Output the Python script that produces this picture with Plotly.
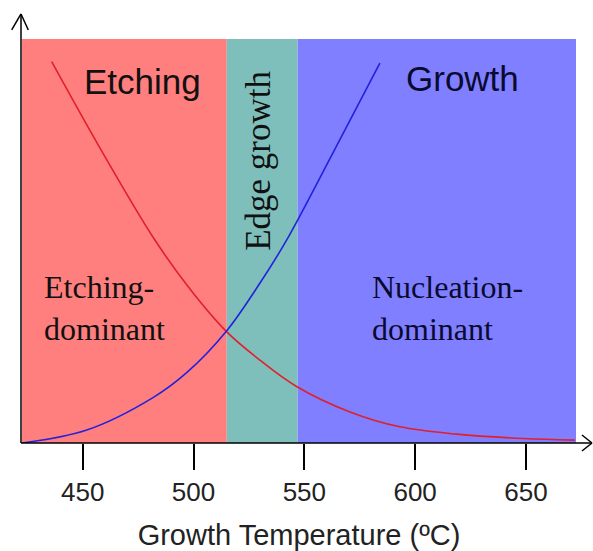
import plotly.graph_objects as go

# ---- data ----
temp_etch = [436.0, 457.8, 481.9, 498.4, 515.0, 530.0, 546.5, 570.6, 593.2, 618.7, 648.8, 672.1]
rate_etch = [94.4, 73.0, 50.8, 38.1, 27.5, 20.5, 14.0, 7.7, 4.0, 2.2, 1.1, 0.7]

temp_growth = [422.6, 451.8, 481.9, 496.9, 515.0, 530.0, 542.0, 563.1, 584.1]
rate_growth = [0.0, 3.2, 11.3, 17.4, 27.8, 39.6, 50.2, 72.0, 94.0]

region_edges = [422.6, 515.0, 547.0, 672.6]
region_colors = ["#FF7F7F", "#7FBFBB", "#7F7FFF"]

tick_vals = [450, 500, 550, 600, 650]
tick_text = ["450", "500", "550", "600", "650"]
x_title = "Growth Temperature (ºC)"

SANS = "Liberation Sans, Arial, sans-serif"
SERIF = "Liberation Serif, Times New Roman, serif"

fig = go.Figure()

fig.add_trace(go.Scatter(x=temp_etch, y=rate_etch, mode="lines",
                         line=dict(color="#E0202A", width=1.6, shape="spline", smoothing=1.0),
                         showlegend=False, hoverinfo="skip"))
fig.add_trace(go.Scatter(x=temp_growth, y=rate_growth, mode="lines",
                         line=dict(color="#2222DD", width=1.6, shape="spline", smoothing=1.0),
                         showlegend=False, hoverinfo="skip"))

shapes = []
for i, c in enumerate(region_colors):
    shapes.append(dict(type="rect", xref="x", yref="paper",
                       x0=region_edges[i], x1=region_edges[i + 1], y0=0, y1=1,
                       fillcolor=c, line=dict(width=0), layer="below"))

# axis lines with open arrowheads (paper coordinates)
ax = dict(color="black", width=1.5)
shapes += [
    dict(type="line", xref="paper", yref="paper", x0=-0.0018, x1=-0.0018, y0=0, y1=1.0619, line=ax),
    dict(type="line", xref="paper", yref="paper", x0=-0.0018, x1=-0.0186, y0=1.0619, y1=1.0223, line=ax),
    dict(type="line", xref="paper", yref="paper", x0=-0.0018, x1=0.0114, y0=1.0619, y1=1.0223, line=ax),
    dict(type="line", xref="paper", yref="paper", x0=-0.0018, x1=1.0289, y0=0, y1=0, line=ax),
    dict(type="line", xref="paper", yref="paper", x0=1.0289, x1=1.0108, y0=0, y1=0.0198, line=ax),
    dict(type="line", xref="paper", yref="paper", x0=1.0289, x1=1.0108, y0=0, y1=-0.0198, line=ax),
]

annotations = [
    dict(text="Etching", x=476.8, y=89.4, xref="x", yref="y", showarrow=False,
         font=dict(family=SANS, size=35, color="#111111"), xanchor="center", yanchor="middle"),
    dict(text="Growth", x=621.6, y=90.3, xref="x", yref="y", showarrow=False,
         font=dict(family=SANS, size=35, color="#0a0a30"), xanchor="center", yanchor="middle"),
    dict(text="Edge growth", x=529.0, y=69.8, xref="x", yref="y", showarrow=False, textangle=-90,
         font=dict(family=SERIF, size=35, color="#111111"), xanchor="center", yanchor="middle"),
    dict(text="Etching-<br>dominant", x=431.8, y=33.5, xref="x", yref="y", showarrow=False,
         align="left", font=dict(family=SERIF, size=32, color="#111111"),
         xanchor="left", yanchor="middle"),
    dict(text="Nucleation-<br>dominant", x=579.5, y=33.5, xref="x", yref="y", showarrow=False,
         align="left", font=dict(family=SERIF, size=32, color="#0a0a30"),
         xanchor="left", yanchor="middle"),
]

fig.update_layout(
    width=593, height=551,
    margin=dict(l=22, r=17, t=39, b=108, autoexpand=False),
    paper_bgcolor="white", plot_bgcolor="white",
    shapes=shapes, annotations=annotations,
    xaxis=dict(range=[region_edges[0], region_edges[-1]], tickvals=tick_vals, ticktext=tick_text,
               ticks="outside", ticklen=26, tickwidth=1.5, tickcolor="black",
               showgrid=False, zeroline=False, showline=False, automargin=False,
               tickfont=dict(family=SANS, size=26, color="#222222"),
               title=dict(text=x_title, font=dict(family=SANS, size=29, color="#222222"), standoff=21)),
    yaxis=dict(range=[0, 100], visible=False, showgrid=False, zeroline=False),
)

fig.write_html("out.html")
